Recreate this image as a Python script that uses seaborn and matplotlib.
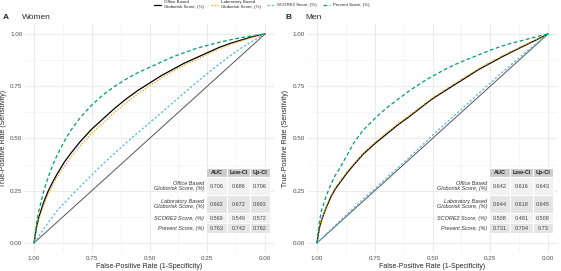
import matplotlib
matplotlib.use('Agg')
import matplotlib.pyplot as plt
import seaborn as sns
from matplotlib.lines import Line2D

sns.set_theme(style='white')
plt.rcParams['font.family'] = ['Liberation Sans', 'DejaVu Sans']

# score names, colours and line styles (legend order)
models = ['Office Based\nGloborisk Score, (%)', 'Laboratory Based\nGloborisk Score, (%)',
          'SCORE2 Score, (%)', 'Prevent Score, (%)']
colors = ['black', '#E69F00', '#56B4E9', '#009E73']
styles = ['-', (0, (1, 1.3)), (0, (1.8, 1.6)), (0, (3, 2))]

# ROC curves: false-positive rate grid and true-positive rates
fpr = [0, 0.01, 0.02, 0.04, 0.06, 0.08, 0.10, 0.13, 0.16, 0.20, 0.25, 0.30, 0.35,
       0.40, 0.45, 0.50, 0.55, 0.60, 0.65, 0.70, 0.75, 0.80, 0.85, 0.90, 0.95, 1]

women_office = [0, 0.07, 0.12, 0.19, 0.245, 0.29, 0.33, 0.385, 0.43, 0.485, 0.545, 0.595, 0.645,
                0.69, 0.73, 0.765, 0.80, 0.83, 0.86, 0.885, 0.91, 0.935, 0.955, 0.972, 0.988, 1]
women_lab = [0, 0.065, 0.11, 0.175, 0.23, 0.275, 0.315, 0.365, 0.41, 0.465, 0.525, 0.575, 0.625,
             0.672, 0.714, 0.752, 0.788, 0.82, 0.85, 0.876, 0.902, 0.928, 0.95, 0.968, 0.985, 1]
women_score2 = [0, 0.015, 0.03, 0.065, 0.095, 0.125, 0.155, 0.19, 0.225, 0.27, 0.325, 0.38, 0.43,
                0.48, 0.528, 0.575, 0.622, 0.67, 0.718, 0.765, 0.81, 0.855, 0.896, 0.935, 0.968, 1]
women_prevent = [0, 0.09, 0.15, 0.24, 0.31, 0.37, 0.42, 0.485, 0.54, 0.60, 0.66, 0.71, 0.75,
                 0.785, 0.815, 0.84, 0.865, 0.89, 0.91, 0.93, 0.945, 0.96, 0.972, 0.983, 0.992, 1]

men_office = [0, 0.07, 0.11, 0.17, 0.22, 0.26, 0.29, 0.335, 0.375, 0.425, 0.475, 0.52, 0.565,
              0.605, 0.648, 0.69, 0.725, 0.76, 0.795, 0.83, 0.86, 0.89, 0.918, 0.945, 0.972, 1]
men_lab = [0, 0.073, 0.114, 0.175, 0.225, 0.265, 0.296, 0.34, 0.38, 0.43, 0.48, 0.526, 0.57,
           0.61, 0.652, 0.694, 0.73, 0.765, 0.8, 0.834, 0.864, 0.894, 0.921, 0.948, 0.974, 1]
men_score2 = [0, 0.011, 0.022, 0.043, 0.064, 0.085, 0.106, 0.137, 0.168, 0.21, 0.26, 0.31, 0.36,
              0.41, 0.462, 0.515, 0.565, 0.615, 0.665, 0.715, 0.765, 0.815, 0.862, 0.91, 0.955, 1]
men_prevent = [0, 0.10, 0.158, 0.225, 0.28, 0.325, 0.36, 0.42, 0.48, 0.54, 0.595, 0.645, 0.687,
               0.728, 0.765, 0.798, 0.828, 0.855, 0.878, 0.90, 0.922, 0.942, 0.958, 0.972, 0.987, 1]

# AUC tables
women_auc = [0.706, 0.692, 0.569, 0.763]
women_low = [0.686, 0.672, 0.549, 0.742]
women_up = [0.706, 0.693, 0.572, 0.762]
men_auc = [0.642, 0.644, 0.508, 0.731]
men_low = [0.616, 0.618, 0.481, 0.704]
men_up = [0.643, 0.645, 0.508, 0.73]

diag = [0, 1]
ticks = [1.0, 0.75, 0.5, 0.25, 0.0]
tick_labels = ['1.00', '0.75', '0.50', '0.25', '0.00']

panels = [
    ('A', 'Women', [women_office, women_lab, women_score2, women_prevent],
     women_auc, women_low, women_up),
    ('B', 'Men', [men_office, men_lab, men_score2, men_prevent],
     men_auc, men_low, men_up),
]

fig = plt.figure(figsize=(5.61, 2.71), dpi=100)
ax_pos = [[0.0446, 0.0664, 0.4439, 0.8469], [0.549, 0.0664, 0.4439, 0.8469]]
spec = [1 - f for f in fpr]

for pos, (letter, title, curves, auc, low, up) in zip(ax_pos, panels):
    ax = fig.add_axes(pos)
    ax.plot([1 - d for d in diag], diag, color='#555555', lw=0.7, zorder=2)
    for tpr, c, ls in zip(curves, colors, styles):
        sns.lineplot(x=spec, y=tpr, ax=ax, color=c, lw=0.9, linestyle=ls,
                     sort=False, estimator=None, zorder=3)
    ax.set_xlim(1.039, -0.039)
    ax.set_ylim(-0.048, 1.05)
    ax.set_xticks(ticks)
    ax.set_xticklabels(tick_labels)
    ax.set_yticks(ticks)
    ax.set_yticklabels(tick_labels)
    ax.set_xticks([0.875, 0.625, 0.375, 0.125], minor=True)
    ax.set_yticks([0.875, 0.625, 0.375, 0.125], minor=True)
    ax.grid(which='major', color='#ebebeb', lw=0.8)
    ax.grid(which='minor', color='#f3f3f3', lw=0.5)
    ax.tick_params(which='both', length=0, labelsize=4.5, labelcolor='#4d4d4d', pad=2)
    for s in ax.spines.values():
        s.set_visible(False)
    ax.set_xlabel('False-Positive Rate (1-Specificity)', fontsize=5, labelpad=1.5)
    ax.set_ylabel('True-Positive Rate (Sensitivity)', fontsize=5, labelpad=2.5)

    fig.text(pos[0] - 0.04, 0.935, letter, fontsize=6, fontweight='bold', va='center')
    fig.text(pos[0] - 0.005, 0.935, title, fontsize=6, va='center')

    # AUC table
    rows = [[m, str(a), str(l), str(u)] for m, a, l, u in zip(models, auc, low, up)]
    tab = ax.table(cellText=rows, colLabels=['', 'AUC', 'Low-CI', 'Up-CI'],
                   bbox=[0.47, 0.087, 0.514, 0.283], zorder=5)
    tab.auto_set_font_size(False)
    widths = [0.257, 0.084, 0.092, 0.080]
    heights = [9, 18, 18, 10, 10]
    fills = ['#cccccc', '#f2f2f2', '#e5e5e5', '#f2f2f2', '#e5e5e5']
    for (r, c), cell in tab.get_celld().items():
        cell.set_width(widths[c])
        cell.set_height(heights[r])
        cell.set_edgecolor('white')
        cell.set_linewidth(0.8)
        cell.get_text().set_fontsize(4)
        if c == 0:
            cell.set_facecolor('none')
            cell.set_edgecolor('none')
            cell._loc = 'right'
            cell.PAD = 0.03
            cell.get_text().set_ha('right')
            cell.get_text().set_fontstyle('italic')
            cell.get_text().set_color('#333333')
        else:
            cell.set_facecolor(fills[r])
            cell._loc = 'center'
            cell.get_text().set_ha('center')
            if r == 0:
                cell.get_text().set_fontweight('bold')
                cell.get_text().set_color('#222222')
            else:
                cell.get_text().set_color('#444444')

handles = [Line2D([], [], color=c, lw=0.9, linestyle=ls) for c, ls in zip(colors, styles)]
fig.legend(handles, models, loc='upper center', bbox_to_anchor=(0.467, 1.01), ncol=4,
           frameon=False, fontsize=3.2, handlelength=1.6, columnspacing=1.4,
           handletextpad=0.7, borderpad=0.2)

fig.savefig('out.png', dpi=100)
